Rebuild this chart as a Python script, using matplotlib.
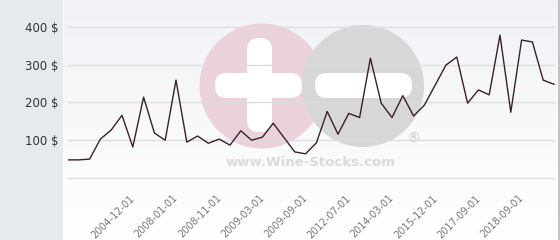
import numpy as np
import matplotlib.pyplot as plt
from matplotlib.patches import Circle, FancyBboxPatch

# wine price history ($), one value per category
prices = [48, 48, 50, 103, 127, 166, 82, 214, 119, 100,
          259, 95, 111, 92, 103, 87, 125, 100, 108, 145,
          107, 69, 64, 93, 176, 116, 171, 160, 317, 198,
          160, 218, 164, 193, 246, 299, 320, 198, 233, 220,
          378, 174, 365, 360, 259, 248]
tick_labels = ["2004-12-01", "2008-01-01", "2008-11-01", "2009-03-01", "2009-09-01",
               "2012-07-01", "2014-03-01", "2015-12-01", "2017-09-01", "2018-09-01"]
y_ticks = [100, 200, 300, 400]

W, H = 560, 240
fig = plt.figure(figsize=(W / 100, H / 100), dpi=100)
fig.patch.set_facecolor("white")

# left grey panel
left = fig.add_axes([0, 0, 63 / W, 1])
left.set_facecolor("#e6eaee")
left.set_xticks([])
left.set_yticks([])
for s in left.spines.values():
    s.set_visible(False)

# gradient background of the plot area
bg = fig.add_axes([64 / W, 0, 495 / W, 1])
grad = np.linspace(0, 1, 256).reshape(-1, 1)
top = np.array([0.945, 0.949, 0.965])
bot = np.array([1.0, 1.0, 1.0])
img = top + (bot - top) * grad[..., None]
bg.imshow(img, aspect="auto", extent=[0, 1, 0, 1])
bg.set_axis_off()

# watermark (pixel coordinates)
wm = fig.add_axes([0, 0, 1, 1])
wm.set_xlim(0, W)
wm.set_ylim(H, 0)
wm.set_axis_off()
wm.patch.set_alpha(0)
wm.add_patch(Circle((262, 86), 62.5, color="#ebd1d9", lw=0))
wm.add_patch(FancyBboxPatch((247, 38), 25, 94, boxstyle="round,pad=0,rounding_size=12",
                            color="white", lw=0))
wm.add_patch(FancyBboxPatch((215, 73), 87, 25, boxstyle="round,pad=0,rounding_size=12",
                            color="white", lw=0))
wm.add_patch(Circle((363, 86), 61, color="#d7d7d9", lw=0))
wm.add_patch(FancyBboxPatch((315, 73), 97, 25, boxstyle="round,pad=0,rounding_size=12",
                            color="white", lw=0))
wm.text(311, 162, "www.Wine-Stocks.com", ha="center", va="center", fontsize=9.5,
        fontweight="bold", color="#dadada")
wm.text(413, 139, "®", ha="center", va="center", fontsize=10, color="#d0d0d0")
wm.plot([559, 559], [0, H], color="#b8b8b8", lw=1.2)

# main chart
ax = fig.add_axes([68 / W, 0, 487 / W, 1])
ax.patch.set_alpha(0)
n = len(prices)
x = np.arange(n)
ax.set_xlim(0, (487 / 10.8))
ax.set_ylim(-164, 471)
for v in [0] + y_ticks:
    ax.axhline(v, color="#dcdde2", lw=1, zorder=1)
ax.plot(x, prices, color="#3b1f2b", lw=1, zorder=3)

ax.set_yticks(y_ticks)
ax.set_yticklabels([f"{v} $" for v in y_ticks], fontsize=8.5, color="#333333")
ax.tick_params(axis="y", length=0, pad=7)
ax.set_xticks([])
for s in ax.spines.values():
    s.set_visible(False)

for i, lab in zip(range(6, n, 4), tick_labels):
    ax.text(i - 0.3, -40, lab, rotation=45, ha="right", va="top",
            fontsize=7, color="#777777", rotation_mode="anchor")

fig.savefig("out.png", dpi=100)
